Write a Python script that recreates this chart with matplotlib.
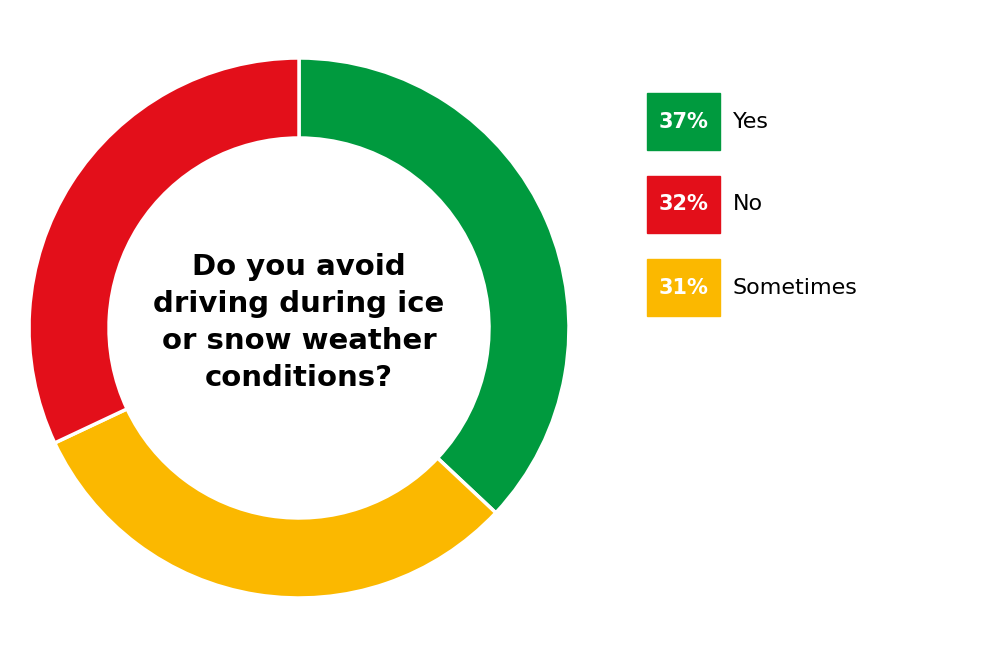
import matplotlib
matplotlib.use("Agg")
import matplotlib.pyplot as plt
from matplotlib.patches import Rectangle

labels = ["Yes", "Sometimes", "No"]
values = [37, 31, 32]
colors = ["#009a3e", "#fbb800", "#e30f1a"]
legend_labels = ["Yes", "No", "Sometimes"]
legend_values = [37, 32, 31]
legend_colors = ["#009a3e", "#e30f1a", "#fbb800"]

fig = plt.figure(figsize=(10, 6.59), dpi=100)
ax = fig.add_axes([0.029, 0.0926, 0.54, 0.8194])
ax.pie(values, colors=colors, startangle=90, counterclock=False, radius=1,
       wedgeprops=dict(width=80/270, edgecolor="white", linewidth=2.5))
ax.set_xlim(-1, 1)
ax.set_ylim(-1, 1)
ax.set_aspect("equal")
ax.axis("off")
ax.text(0, 0.02, "Do you avoid\ndriving during ice\nor snow weather\nconditions?",
        ha="center", va="center", fontsize=21, fontweight="bold",
        linespacing=1.4, color="black")

for i, (lab, v, c) in enumerate(zip(legend_labels, legend_values, legend_colors)):
    top = 93 + i * 83
    fig.patches.append(Rectangle((647/1000, 1 - (top + 57)/659), 73/1000, 57/659,
                                 transform=fig.transFigure, color=c))
    yc = 1 - (top + 28.5)/659
    fig.text(683.5/1000, yc, f"{v}%", ha="center", va="center", color="white",
             fontsize=15, fontweight="bold")
    fig.text(733/1000, yc, lab, ha="left", va="center", color="black", fontsize=16)

fig.savefig("out.png", dpi=100)
